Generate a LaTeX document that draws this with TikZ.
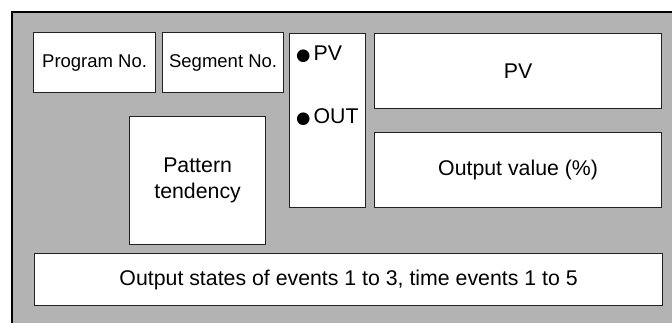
\documentclass[tikz,border=0pt]{standalone}
\usepackage{fontspec}
\setmainfont{Liberation Sans}
\newfontfamily\symfont{DejaVu Sans}
\usepackage{tikz}
\usetikzlibrary{positioning}
\definecolor{panel}{HTML}{B3B3B3}
\definecolor{edge}{HTML}{222222}

\begin{document}
\begin{tikzpicture}[
    x=1pt, y=-1pt,
    font=\fontsize{21.3}{26}\selectfont,
    field/.style={draw=edge, fill=white, line width=1.2pt, inner sep=0pt,
                  align=center, anchor=north west},
    small/.style={font=\fontsize{18.5}{22}\selectfont},
    lamp/.style={anchor=west, inner sep=0pt},
]
    \useasboundingbox (0,0) rectangle (672,322);
    % housing, cut off at the right and bottom
    \begin{scope}
        \clip (0,0) rectangle (672,322);
        \draw[fill=panel, line width=2.2pt] (12,12) rectangle (700,350);
    \end{scope}

    \node[field, small, minimum width=122pt, minimum height=60pt] (prog) at (33,32) {Program No.};
    \node[field, small, minimum width=121pt, minimum height=60pt] (seg)  at (162,32) {Segment No.};
    \node[field, minimum width=76pt,  minimum height=174pt] (mon) at (289,33) {};
    \node[field, minimum width=287pt, minimum height=75pt] (pv)   at (374,33) {PV};
    \node[field, minimum width=287pt, minimum height=75pt] (out)  at (374,132) {Output value (\%)};
    \node[field, minimum width=136pt, minimum height=128pt] (pat) at (129,116) {Pattern\\tendency};
    \node[field, minimum width=628pt, minimum height=52pt] (evt)  at (34,253) {Output states of events 1 to 3, time events 1 to 5};

    % indicator lamps
    \node[lamp] (lpv)  at ([xshift=7pt, yshift=-21pt]mon.north west) {{\symfont\fontsize{16.5}{16}\selectfont ●}\kern3pt PV};
    \node[lamp] (lout) at ([xshift=7pt, yshift=-84pt]mon.north west) {{\symfont\fontsize{16.5}{16}\selectfont ●}\kern3pt OUT};
\end{tikzpicture}
\end{document}
